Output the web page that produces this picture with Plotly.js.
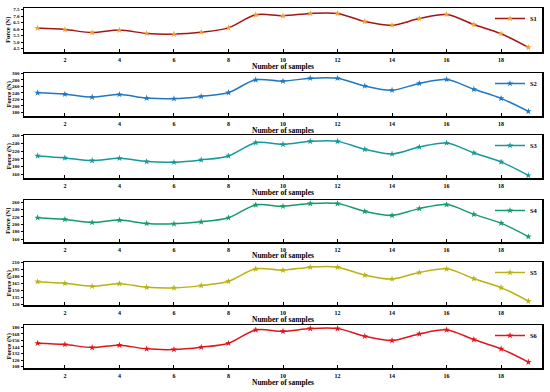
<!DOCTYPE html>
<html><head><meta charset="utf-8">
<script src="https://cdn.plot.ly/plotly-3.0.1.min.js"></script>
<style>html,body{margin:0;padding:0;background:#fff}#c{width:550px;height:392px}</style>
</head><body><div id="c"></div>
<script>
const samples = [1,2,3,4,5,6,7,8,9,10,11,12,13,14,15,16,17,18,19];
const xTicks = [2,4,6,8,10,12,14,16,18];
const S1 = [6.08,5.97,5.74,5.93,5.67,5.62,5.77,6.10,7.10,7.02,7.20,7.20,6.58,6.30,6.81,7.12,6.35,5.65,4.60];
const S2 = [240,236,227,235,224,222,229,241,280,276,285,285,261,248,269,281,251,223,183];
const S3 = [207.5,202.4,195.6,201.5,193,191.4,197.3,207.5,241.4,237.1,244.7,244.7,224.4,212.5,230.3,240.5,215.1,192.2,157.5];
const S4 = [217.8,213.2,205,211.4,202.2,201.3,206.8,217.8,252.7,249,256.3,256.3,235.2,224.2,242.6,253.6,227,203.1,166.4];
const S5 = [168.2,164.7,158.3,163.9,156.1,154.7,159.7,168.9,195.8,193,199.4,199.4,182.4,173.9,188,195.8,174.6,155.4,126.4];
const S6 = [150.9,148.5,143,147.3,140.6,139.4,143.6,150.9,175.2,172.7,177.6,177.6,163.6,155.8,167.9,175.2,157.6,140.6,116.4];
const seriesNames = ['S1','S2','S3','S4','S5','S6'];
const seriesData = [S1,S2,S3,S4,S5,S6];
const yTickSets = [
  [4.5,5.0,5.5,6.0,6.5,7.0,7.5],
  [180,200,220,240,260,280,300],
  [160,180,200,220,240,260],
  [160,180,200,220,240,260],
  [120,135,150,165,180,195,210],
  [108,120,132,144,156,168,180]
];
const yTickText = [
  ['4.5','5.0','5.5','6.0','6.5','7.0','7.5'], null, null, null, null, null
];
const yRanges = [[4.25,7.62],[169,301],[151,261],[152,266],[118,210.5],[105.6,184.2]];
const lineColors = ['#a31515','#1f78c1','#16999a','#149b6c','#b9b212','#e0161b'];
const markerColors = ['#f0a030','#1f78c1','#16999a','#149b6c','#b9b212','#e0161b'];
const H = 392, W = 550, ML = 24, PW = 518;
const panels = [[8,52],[73,116],[135,178],[200,242],[262,305],[325,368]];
const fontF = 'Liberation Serif';
const traces = [], layout = {
  width:W, height:H, margin:{l:ML,r:8,t:0,b:0},
  paper_bgcolor:'#fff', plot_bgcolor:'#fff', showlegend:true,
  font:{family:fontF, size:6, color:'#000', weight:'bold'},
  annotations:[]
};
panels.forEach((p,i)=>{
  const k = i===0 ? '' : String(i+1);
  const dom = [1 - p[1]/H, 1 - p[0]/H];
  traces.push({
    x: samples, y: seriesData[i], name: seriesNames[i], type:'scatter', mode:'lines+markers',
    xaxis:'x'+k, yaxis:'y'+k, legend: 'legend'+k,
    line:{color:lineColors[i], width:1.5, shape:'spline', smoothing:0.9},
    marker:{symbol:'star', size:5, color:markerColors[i], line:{width:0}}
  });
  layout['xaxis'+k] = {domain:[0,1], anchor:'y'+k, range:[0.5,19.5], tickvals:xTicks,
    ticks:'inside', ticklen:3, tickwidth:1, tickcolor:'#000', showgrid:false, zeroline:false,
    showline:true, mirror:true, linecolor:'#000', linewidth:1.5,
    tickfont:{family:fontF, size:6, weight:'bold'}, ticklabelstandoff:1};
  const ya = {domain:dom, anchor:'x'+k, range:yRanges[i], tickvals:yTickSets[i],
    ticks:'outside', ticklen:2, tickwidth:1, tickcolor:'#000', showgrid:false, zeroline:false,
    showline:true, mirror:true, linecolor:'#000', linewidth:1.5,
    tickfont:{family:fontF, size:5, weight:'bold'}, ticklabelstandoff:0};
  if (yTickText[i]) ya.ticktext = yTickText[i];
  layout['yaxis'+k] = ya;
  layout['legend'+k] = {x:(490-ML)/PW, xanchor:'left', y:1-(p[0]-4)/H, yanchor:'top',
    bgcolor:'rgba(0,0,0,0)', borderwidth:0, font:{family:fontF, size:6.5, weight:'bold'},
    itemwidth:30, tracegroupgap:0};
  layout.annotations.push({xref:'paper', yref:'paper', x:0.5, y:1-(p[1]+14)/H, yanchor:'middle',
    text:'Number of samples', showarrow:false, font:{family:fontF, size:7.5, weight:'bold'}});
  layout.annotations.push({xref:'paper', yref:'paper', x:-(ML-8)/PW, y:1-((p[0]+p[1])/2)/H,
    xanchor:'center', yanchor:'middle', textangle:-90,
    text:'Force (N)', showarrow:false, font:{family:fontF, size:6.5, weight:'bold'}});
});
Plotly.newPlot('c', traces, layout, {displayModeBar:false, staticPlot:true});
</script></body></html>
